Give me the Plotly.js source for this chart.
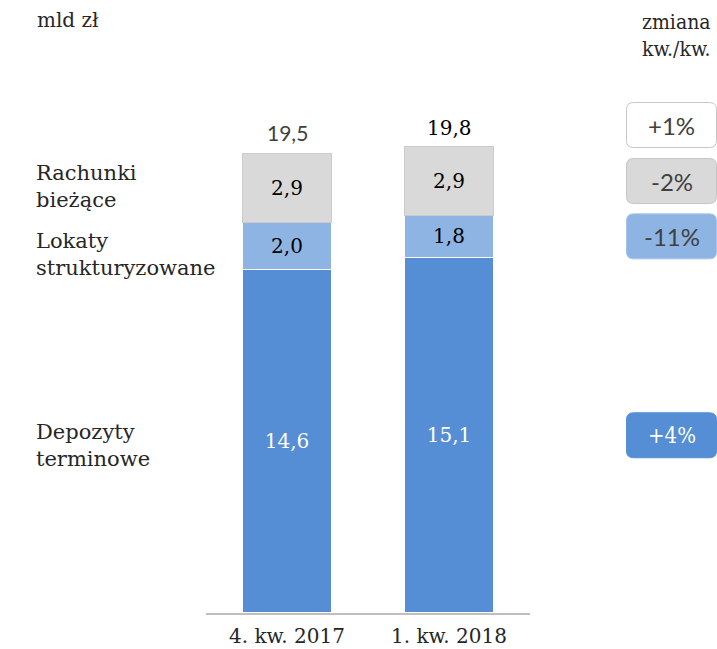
<!DOCTYPE html>
<html><head><meta charset="utf-8">
<script src="https://cdn.plot.ly/plotly-3.0.1.min.js"></script>
<style>html,body{margin:0;padding:0;background:#fff}</style>
</head><body><div id="chart" style="width:717px;height:649px"></div>
<script>
const categories = ["4. kw. 2017", "1. kw. 2018"];
const seriesNames = ["Depozyty<br>terminowe", "Lokaty<br>strukturyzowane", "Rachunki<br>bieżące"];
const depozyty = [14.6, 15.1];
const lokaty = [2.0, 1.8];
const rachunki = [2.9, 2.9];
const totals = [19.5, 19.8];
const changes = ["+4%", "-11%", "-2%", "+1%"]; // dark, light, grey, total

const W = 717, H = 649;
const px = x => x / W;           // pixel -> paper x
const py = y => 1 - y / H;        // pixel -> paper y
const yBase = 613, pxPerUnit = 23.54;
const yMax = (yBase - 95) / pxPerUnit;

const serif = "DejaVu Serif, serif";
const serifC = "DejaVu Serif Condensed, DejaVu Serif, serif";
const sans = "Lato, Liberation Sans, sans-serif";
const fmt = v => v.toFixed(1).replace('.', ',');

const cDark = "#558ED5", cLight = "#8DB4E2", cGrey = "#D9D9D9";

const traces = [
  {type:'bar', x:categories, y:depozyty, name:seriesNames[0], marker:{color:cDark, line:{color:'#ffffff', width:1.5}},
   text:depozyty.map(fmt), textposition:'inside', insidetextanchor:'middle', textangle:0, constraintext:'none',
   textfont:{family:serif, size:20, color:'#ffffff'}, hoverinfo:'skip'},
  {type:'bar', x:categories, y:lokaty, name:seriesNames[1], marker:{color:cLight, line:{color:'#ffffff', width:1.5}},
   text:lokaty.map(fmt), textposition:'inside', insidetextanchor:'middle', textangle:0, constraintext:'none',
   textfont:{family:serif, size:20, color:'#000000'}, hoverinfo:'skip'},
  {type:'bar', x:categories, y:rachunki, name:seriesNames[2], marker:{color:cGrey, line:{color:'#cbcbcb', width:1}},
   text:rachunki.map(fmt), textposition:'inside', insidetextanchor:'middle', textangle:0, constraintext:'none',
   textfont:{family:serif, size:20, color:'#000000'}, hoverinfo:'skip'}
];

const annotations = [];
const shapes = [];

// totals above bars
totals.forEach((t, i) => {
  annotations.push({x:categories[i], y:t, xref:'x', yref:'y', text:fmt(t), showarrow:false,
    yanchor:'bottom', yshift: i === 0 ? 7 : 5,
    font: i === 0 ? {family:sans, size:21, color:'#404040'} : {family:serif, size:20, color:'#000000'}});
});

// left series labels aligned to segments of first bar
const segCenters1 = [depozyty[0]/2, depozyty[0] + lokaty[0]/2, depozyty[0] + lokaty[0] + rachunki[0]/2];
const labelShift = [-4, -9, 2];
seriesNames.forEach((n, k) => {
  annotations.push({x:px(34), xref:'paper', y:segCenters1[k], yref:'y', text:n, showarrow:false,
    xanchor:'left', yanchor:'middle', align:'left', yshift:labelShift[k],
    font:{family:serif, size:21, color:'#262626'}});
});

// change boxes aligned to segments of second bar
const segCenters2 = [depozyty[1]/2, depozyty[1] + lokaty[1]/2, depozyty[1] + lokaty[1] + rachunki[1]/2, totals[1] + 0.93];
const boxFill = [cDark, cLight, cGrey, '#ffffff'];
const boxLine = [cDark, '#a9c4e6', '#c6c6c6', '#c6c6c6'];
const boxText = ['#ffffff', '#404040', '#404040', '#404040'];
const boxFont = [serifC, sans, sans, sans];
const boxSize = [22, 24, 24, 24];
const bx0 = px(626.5), bx1 = px(716.5);
const halfH = 22.5 / pxPerUnit, rx = 7 / W, ry = 7 / pxPerUnit;
segCenters2.forEach((c, k) => {
  const y0 = c - halfH, y1 = c + halfH;
  const path = `M ${bx0+rx},${y0} L ${bx1-rx},${y0} Q ${bx1},${y0} ${bx1},${y0+ry} L ${bx1},${y1-ry} Q ${bx1},${y1} ${bx1-rx},${y1} L ${bx0+rx},${y1} Q ${bx0},${y1} ${bx0},${y1-ry} L ${bx0},${y0+ry} Q ${bx0},${y0} ${bx0+rx},${y0} Z`;
  shapes.push({type:'path', xref:'paper', yref:'y', path:path, fillcolor:boxFill[k], line:{color:boxLine[k], width:1}, layer:'above'});
  annotations.push({x:(bx0+bx1)/2, xref:'paper', y:c, yref:'y', text:changes[k], showarrow:false,
    xanchor:'center', yanchor:'middle', font:{family:boxFont[k], size:boxSize[k], color:boxText[k]}});
});

// headers
annotations.push({x:px(35), xref:'paper', y:py(20), yref:'paper', text:'mld zł', showarrow:false,
  xanchor:'left', yanchor:'middle', font:{family:serif, size:20, color:'#262626'}});
annotations.push({x:px(676), xref:'paper', y:py(36), yref:'paper', text:'zmiana<br>kw./kw.', showarrow:false,
  xanchor:'center', yanchor:'middle', align:'center', font:{family:serifC, size:21, color:'#262626'}});

const layout = {
  width:W, height:H, margin:{l:0, r:0, t:0, b:0},
  paper_bgcolor:'#ffffff', plot_bgcolor:'#ffffff',
  barmode:'stack', bargap:0.45, showlegend:false,
  xaxis:{domain:[px(206), px(530)], type:'category', range:[-0.5, 1.5], showline:true, linecolor:'#bfbfbf', linewidth:2,
    ticks:'', ticklabelstandoff:4, showgrid:false, zeroline:false, tickfont:{family:serif, size:20, color:'#262626'}, fixedrange:true},
  yaxis:{domain:[py(yBase), py(95)], range:[0, yMax], visible:false, showgrid:false, zeroline:false, fixedrange:true},
  annotations:annotations, shapes:shapes,
  uniformtext:{mode:false}
};

Plotly.newPlot('chart', traces, layout, {displayModeBar:false, staticPlot:true});
</script></body></html>
